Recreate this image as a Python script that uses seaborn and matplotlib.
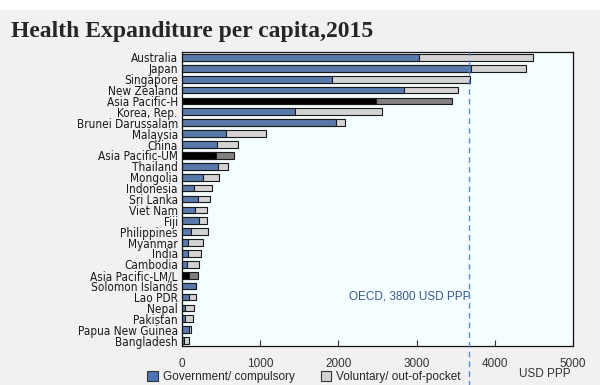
import pandas as pd
import seaborn as sns
import matplotlib.pyplot as plt
from matplotlib.patches import Patch, Rectangle

countries = [
    "Australia", "Japan", "Singapore", "New Zealand", "Asia Pacific-H",
    "Korea, Rep.", "Brunei Darussalam", "Malaysia", "China", "Asia Pacific-UM",
    "Thailand", "Mongolia", "Indonesia", "Sri Lanka", "Viet Nam", "Fiji",
    "Philippines", "Myanmar", "India", "Cambodia", "Asia Pacific-LM/L",
    "Solomon Islands", "Lao PDR", "Nepal", "Pakistan", "Papua New Guinea",
    "Bangladesh",
]
government = [
    3030, 3690, 1920, 2835, 2480, 1445, 1965, 560, 445, 435, 460, 270, 155,
    205, 165, 220, 115, 75, 75, 60, 85, 180, 95, 45, 40, 95, 30,
]
total = [
    4490, 4395, 3680, 3525, 3450, 2555, 2080, 1075, 715, 665, 590, 475, 385,
    360, 320, 325, 335, 270, 245, 215, 205, 185, 180, 155, 135, 110, 85,
]
aggregates = ["Asia Pacific-H", "Asia Pacific-UM", "Asia Pacific-LM/L"]
oecd_line = 3665

df = pd.DataFrame({"country": countries, "gov": government, "total": total})

blue = "#4A76B8"
light = "#D3D3D3"
gov_pal = {c: ("#000000" if c in aggregates else blue) for c in countries}
oop_pal = {c: ("#808080" if c in aggregates else light) for c in countries}

sns.set_theme(style="white")
plt.rcParams["font.family"] = ["Liberation Sans", "DejaVu Sans"]

fig = plt.figure(figsize=(6, 3.85), dpi=100)
fig.patch.set_facecolor("#F1F1F1")
fig.add_artist(Rectangle((0, 1 - 10 / 385), 1, 10 / 385, transform=fig.transFigure,
                         facecolor="white", edgecolor="none", zorder=0))
ax = fig.add_axes([0.3033, 0.1013, 0.6517, 0.7637])
ax.set_facecolor("#F4FDFF")

sns.barplot(data=df, y="country", x="total", hue="country", palette=oop_pal,
            orient="h", width=0.62, edgecolor="#1A1A1A", linewidth=0.8,
            legend=False, ax=ax)
sns.barplot(data=df, y="country", x="gov", hue="country", palette=gov_pal,
            orient="h", width=0.62, edgecolor="#1A1A1A", linewidth=0.8,
            legend=False, ax=ax)

ax.set_xlim(0, 5000)
ax.set_ylim(len(countries) - 0.5, -0.5)
ax.set_xticks([0, 1000, 2000, 3000, 4000, 5000])
ax.set_xlabel("")
ax.set_ylabel("")
ax.tick_params(axis="x", direction="in", length=4, width=0.8, colors="#333333",
               labelsize=8.5, pad=9, bottom=True)
ax.tick_params(axis="y", length=0, pad=3, labelcolor="#1A1A1A")
for lab in ax.get_yticklabels():
    lab.set_family(["DejaVu Sans", "Liberation Sans"])
    lab.set_stretch("condensed")
    lab.set_fontsize(8.5)
for s in ax.spines.values():
    s.set_color("#111111")
    s.set_linewidth(0.9)

ax.axvline(oecd_line, ymin=-0.2, ymax=1, color="#5A8AD0", linestyle=(0, (4, 3)),
           linewidth=1.0, clip_on=False, zorder=5)
ax.text(oecd_line + 20, 22, "OECD, 3800 USD PPP", ha="right", va="center",
        fontsize=8.5, color="#3A5888")

fig.text(0.018, 0.918, "Health Expanditure per capita,2015", fontsize=17,
         fontweight="bold", family=["Liberation Serif", "DejaVu Serif"], ha="left", va="center")
fig.text(0.908, 0.028, "USD PPP", fontsize=8.5, color="#333333", ha="center", va="center")

handles = [Patch(facecolor=blue, edgecolor="#333333", linewidth=0.8),
           Patch(facecolor=light, edgecolor="#333333", linewidth=0.8)]
fig.legend(handles, ["Government/ compulsory", "Voluntary/ out-of-pocket"],
           loc="center left", bbox_to_anchor=(0.228, 0.02), ncol=2, frameon=False,
           handlelength=0.9, handleheight=0.9, handletextpad=0.4,
           columnspacing=2.2, prop={"family": ["Liberation Sans", "DejaVu Sans"], "size": 8.5})

fig.savefig("out.png", dpi=100, facecolor=fig.get_facecolor())
